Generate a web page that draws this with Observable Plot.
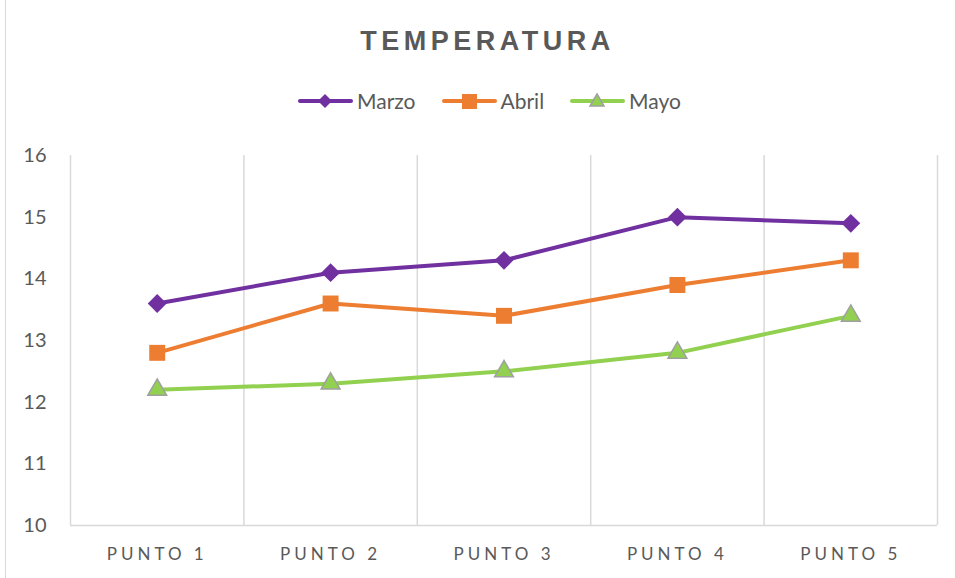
<!DOCTYPE html>
<html><head><meta charset="utf-8">
<script src="https://cdn.jsdelivr.net/npm/d3@7"></script>
<script src="https://cdn.jsdelivr.net/npm/@observablehq/plot@0.6"></script>
<style>
body{margin:0;background:#fff;}
#wrap{position:relative;width:955px;height:578px;overflow:hidden;}
#frame{position:absolute;left:5px;top:0;width:1px;height:578px;background:#d9d9d9;}
#title{position:absolute;left:0;width:955px;top:26px;text-align:center;font-family:"Liberation Sans",Arial,sans-serif;font-weight:bold;font-size:27px;letter-spacing:4.5px;color:#595959;padding-left:20px;box-sizing:border-box;}
#legend{position:absolute;top:88px;left:0;width:955px;display:flex;justify-content:center;gap:0;font-family:Lato,"Open Sans",sans-serif;font-size:21px;color:#595959;padding-left:24px;box-sizing:border-box;}
.item{display:flex;align-items:center;margin:0 13px;}
.item svg{margin-right:4px;}
#chart{position:absolute;left:0;top:0;}
</style></head>
<body>
<div id="wrap">
<div id="frame"></div>
<div id="chart"></div>
<div id="title">TEMPERATURA</div>
<div id="legend"></div>
</div>
<script>
const categories = ["PUNTO 1","PUNTO 2","PUNTO 3","PUNTO 4","PUNTO 5"];
const seriesNames = ["Marzo","Abril","Mayo"];
const marzo = [13.6, 14.1, 14.3, 15.0, 14.9];
const abril = [12.8, 13.6, 13.4, 13.9, 14.3];
const mayo  = [12.2, 12.3, 12.5, 12.8, 13.4];
const yTicks = [10, 11, 12, 13, 14, 15, 16];

const colors = {Marzo:"#7030a0", Abril:"#ed7d31", Mayo:"#92d050"};
const symbols = {Marzo:"diamond2", Abril:"square", Mayo:"triangle"};
const sizes = {Marzo:8.5, Abril:9, Mayo:7};
const strokes = {Marzo:"none", Abril:"none", Mayo:"#a0a0a0"};

const seriesVals = [marzo, abril, mayo];
const data = [];
seriesNames.forEach((s, si) => seriesVals[si].forEach((v, i) => data.push({series: s, idx: i + 1, value: v})));
const bounds = d3.range(0.5, categories.length + 1, 1);

const marks = [
  Plot.ruleX(bounds, {x: d => d, y1: 10, y2: 16, stroke: "#d9d9d9", strokeWidth: 1.5}),
  Plot.ruleY([10], {x1: 0.5, x2: 5.5, stroke: "#d9d9d9", strokeWidth: 1.5}),
];
seriesNames.forEach(s => {
  const d = data.filter(r => r.series === s);
  marks.push(Plot.line(d, {x: "idx", y: "value", stroke: colors[s], strokeWidth: 4, curve: "linear"}));
});
seriesNames.forEach(s => {
  const d = data.filter(r => r.series === s);
  marks.push(Plot.dot(d, {x: "idx", y: "value", symbol: () => symbols[s], r: sizes[s], fill: colors[s], stroke: strokes[s], strokeWidth: 1.5}));
});

const chart = Plot.plot({
  width: 955, height: 578,
  marginTop: 155, marginBottom: 53, marginLeft: 70, marginRight: 18,
  style: {fontFamily: 'Lato, "Open Sans", sans-serif', background: "transparent", overflow: "visible"},
  symbol: {type: "identity"},
  x: {domain: [0.5, 5.5], ticks: d3.range(1, categories.length + 1), tickFormat: d => categories[d - 1], tickSize: 0, label: null},
  y: {domain: [10, 16], ticks: yTicks, tickSize: 0, label: null},
  marks: [
    ...marks,
    Plot.axisX({ticks: d3.range(1, categories.length + 1), tickFormat: d => categories[d - 1], tickSize: 0, tickPadding: 22, fontSize: 17, fill: "#595959", label: null}),
    Plot.axisY({ticks: yTicks, tickFormat: d => String(d), tickSize: 0, tickPadding: 24, fontSize: 20, fill: "#595959", label: null})
  ]
});
chart.querySelectorAll('[aria-label="x-axis tick label"] text').forEach(t => t.setAttribute("letter-spacing", "4px"));
document.getElementById("chart").appendChild(chart);

const legend = document.getElementById("legend");
const legendSym = {
  Marzo: '<path d="M27,3 L34,10 L27,17 L20,10 Z" fill="#7030a0"/>',
  Abril: '<rect x="20" y="3" width="15" height="15" fill="#ed7d31"/>',
  Mayo: '<path d="M27,3 L34,15 L20,15 Z" fill="#92d050" stroke="#a0a0a0" stroke-width="1.5"/>'
};
seriesNames.forEach(s => {
  const it = document.createElement("div");
  it.className = "item";
  it.innerHTML = `<svg width="55" height="20"><line x1="2" x2="53" y1="10" y2="10" stroke="${colors[s]}" stroke-width="4" stroke-linecap="round"/>${legendSym[s]}</svg><span>${s}</span>`;
  legend.appendChild(it);
});
</script>
</body></html>
